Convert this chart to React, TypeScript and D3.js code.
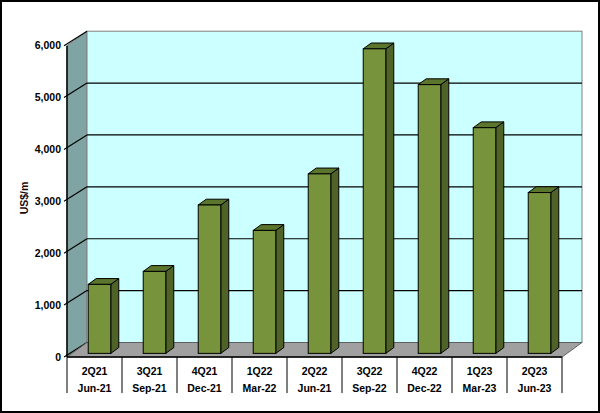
import React from 'react';
import * as d3 from 'd3';

// Chart data
const quarters = ['2Q21', '3Q21', '4Q21', '1Q22', '2Q22', '3Q22', '4Q22', '1Q23', '2Q23'];
const months = ['Jun-21', 'Sep-21', 'Dec-21', 'Mar-22', 'Jun-21', 'Sep-22', 'Dec-22', 'Mar-23', 'Jun-23'];
const values = [1330, 1580, 2860, 2370, 3460, 5870, 5180, 4350, 3100];
const yTicks = [0, 1000, 2000, 3000, 4000, 5000, 6000];

const W = 600;
const H = 413;
const font = '"Liberation Sans", Arial, sans-serif';

export default function App() {
    // front plane of the plot
    const left = 67;
    const right = 562;
    const bottom = 357;
    const top = 45.7;
    // depth of the floor / walls
    const depthX = 20;
    const depthY = -14.5;

    const x = d3.scaleBand<number>()
        .domain(d3.range(quarters.length))
        .range([left, right])
        .paddingInner(0.59)
        .paddingOuter(0.295);

    const y = d3.scaleLinear()
        .domain([0, 6000])
        .range([bottom, top]);

    // bars sit part way into the depth
    const fx = depthX * 0.25, fy = depthY * 0.25;
    const bx = depthX * 0.4, by = depthY * 0.4;

    const pts = (p: number[][]) => p.map(d => d.join(',')).join(' ');

    const bars = values.map((v, i) => {
        const x0 = x(i)! + fx;
        const x1 = x0 + x.bandwidth();
        const yb = y(0) + fy;
        const yt = y(v) + fy;
        return (
            <g key={i}>
                <polygon
                    points={pts([[x1, yt], [x1 + bx, yt + by], [x1 + bx, yb + by], [x1, yb]])}
                    fill="#4F6228" stroke="#000" strokeWidth={1} strokeLinejoin="round" />
                <polygon
                    points={pts([[x0, yt], [x1, yt], [x1 + bx, yt + by], [x0 + bx, yt + by]])}
                    fill="#5B752D" stroke="#000" strokeWidth={1} strokeLinejoin="round" />
                <rect x={x0} y={yt} width={x.bandwidth()} height={yb - yt}
                    fill="#77933C" stroke="#000" strokeWidth={1} />
            </g>
        );
    });

    const step = x.step();
    const sepXs = d3.range(quarters.length + 1).map(i => left + i * step);

    return (
        <svg width={W} height={H} style={{ position: 'absolute', left: 0, top: 0, background: '#fff' }}>
            {/* outer frame */}
            <rect x={1} y={1} width={W - 2} height={H - 2} fill="#fff" stroke="#000" strokeWidth={2} />

            {/* side wall */}
            <polygon
                points={pts([[left, top], [left + depthX, top + depthY], [left + depthX, bottom + depthY], [left, bottom]])}
                fill="#80A4A3" stroke="#808080" strokeWidth={1} />
            {/* back wall */}
            <rect x={left + depthX} y={top + depthY} width={right - left} height={bottom - top}
                fill="#CCFFFF" stroke="#808080" strokeWidth={1} />

            {/* gridlines */}
            {yTicks.map(t => (
                <g key={t}>
                    {t > 0 && t < 6000 && (
                        <line x1={left + depthX} x2={right + depthX} y1={y(t) + depthY} y2={y(t) + depthY}
                            stroke="#000" strokeWidth={1.2} />
                    )}
                    <line x1={left - 3} x2={left + depthX} y1={y(t)} y2={y(t) + depthY}
                        stroke="#000" strokeWidth={1.2} />
                    <text x={61} y={y(t)} dy="0.35em" textAnchor="end"
                        fontFamily={font} fontSize={10.5} fontWeight="bold" fill="#000">
                        {d3.format(',')(t)}
                    </text>
                </g>
            ))}

            {/* floor */}
            <polygon
                points={pts([[left, bottom], [right, bottom], [right + depthX, bottom + depthY], [left + depthX, bottom + depthY]])}
                fill="#A0A0A0" stroke="#606060" strokeWidth={1} />

            {/* axis line */}
            <line x1={left} x2={left} y1={top} y2={bottom} stroke="#000" strokeWidth={1.5} />

            {bars}

            {/* category axis */}
            <line x1={left} x2={right} y1={bottom} y2={bottom} stroke="#000" strokeWidth={1.5} />
            {sepXs.map((sx, i) => (
                <line key={i} x1={sx} x2={sx} y1={bottom} y2={393} stroke="#000" strokeWidth={1} />
            ))}
            {quarters.map((q, i) => {
                const cx = left + (i + 0.5) * step;
                return (
                    <g key={q}>
                        <text x={cx} y={371} dy="0.35em" textAnchor="middle"
                            fontFamily={font} fontSize={10.5} fontWeight="bold" fill="#000">{q}</text>
                        <text x={cx} y={388} dy="0.35em" textAnchor="middle"
                            fontFamily={font} fontSize={10.5} fontWeight="bold" fill="#000">{months[i]}</text>
                    </g>
                );
            })}

            {/* y axis title */}
            <text transform="translate(24,198) rotate(-90)" textAnchor="middle" dy="0.35em"
                fontFamily={font} fontSize={10.5} fontWeight="bold" fill="#1a0a0a">US$/m</text>
        </svg>
    );
}
